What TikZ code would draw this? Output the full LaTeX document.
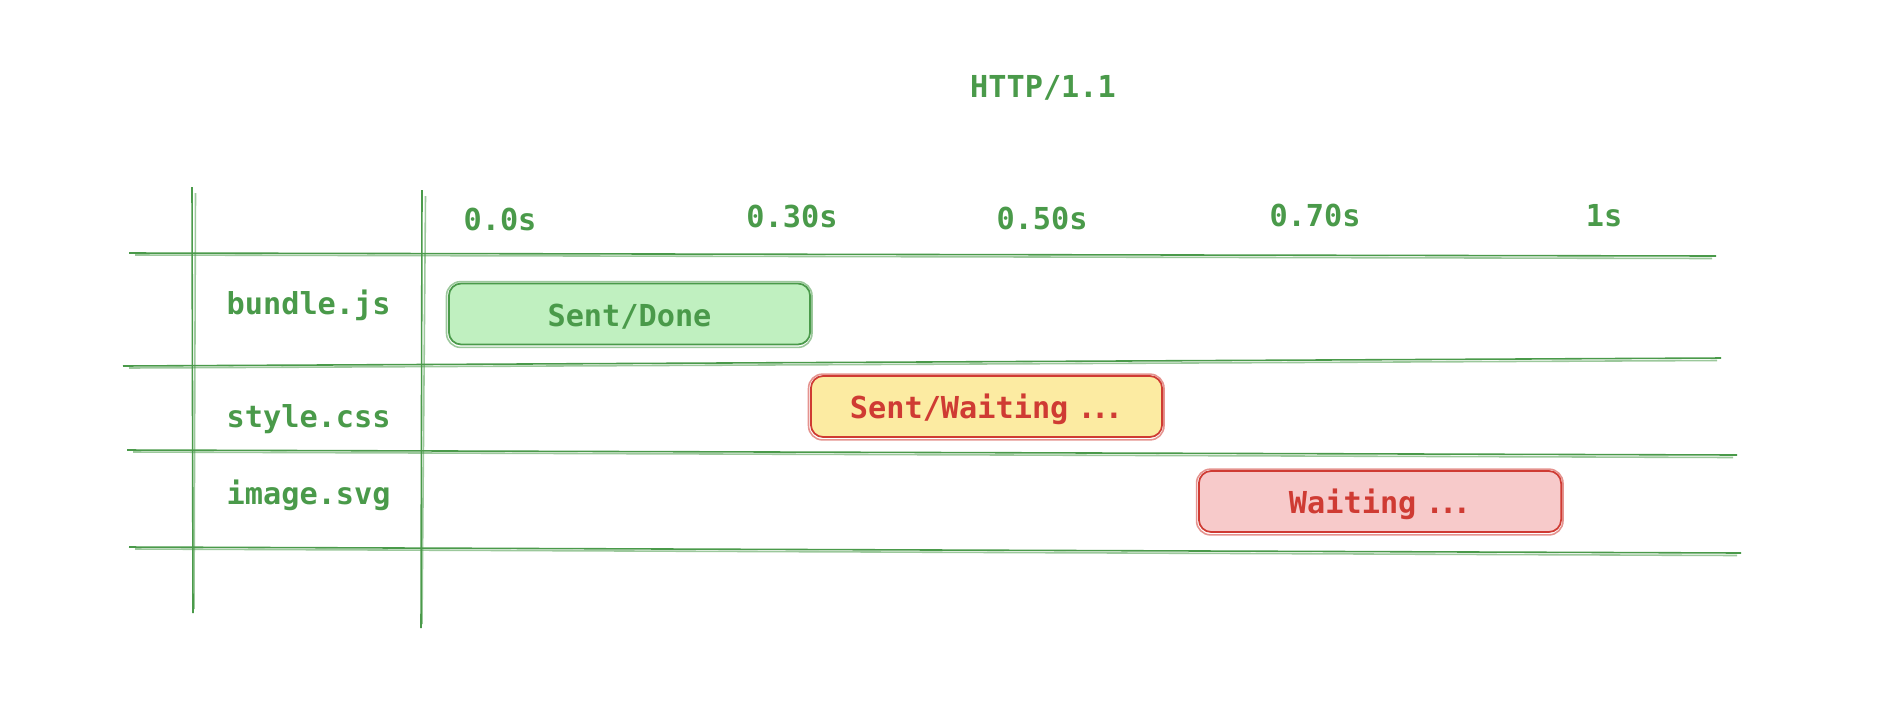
\documentclass[tikz,border=0pt]{standalone}
\usepackage{fontspec}
\setmonofont{DejaVu Sans Mono}
\definecolor{gridgreen}{HTML}{4A9A4A}
\definecolor{waitred}{HTML}{CF3B33}
\definecolor{donefill}{HTML}{C0F0C0}
\definecolor{sentfill}{HTML}{FCEBA2}
\definecolor{waitfill}{HTML}{F7CACA}
\newcommand\waitdots{\kern2.6pt.\kern-1.3pt.\kern-1.3pt.}
\tikzset{
  txt/.style={font=\ttfamily\bfseries\fontsize{8.6}{10}\selectfont, text=gridgreen, inner sep=0pt},
  gridline/.style={draw=gridgreen, line width=0.45pt},
  faint/.style={gridline, opacity=0.55},
  bar/.style={txt, draw, line width=0.5pt, rounded corners=3.5pt, minimum height=0.61cm, text depth=0pt, text height=7pt},
}
\begin{document}
\begin{tikzpicture}[x=0.01cm, y=-0.01cm]
  \useasboundingbox (0,0) rectangle (1892,724);

  % grid
  \foreach \xa/\ya/\xb/\yb in {129/253/1716/256, 123/366/1721/358, 127/450/1737/455, 129/547/1741/553}{
    \draw[gridline] (\xa,\ya) -- (\xb,\yb);
    \draw[faint] (\xa+6,\ya+2) -- (\xb-4,\yb+2.5);
  }
  \foreach \xa/\ya/\xb/\yb in {192/187/193/613, 422/190/421/628}{
    \draw[gridline] (\xa,\ya) -- (\xb,\yb);
    \draw[faint] (\xa+3.5,\ya+6) -- (\xb+1,\yb-4);
  }

  % title and time axis
  \node[txt] (title) at (1043,88) {HTTP/1.1};
  \node[txt] (t0) at (500,219) {0.0s};
  \node[txt] (t30) at (792,216) {0.30s};
  \node[txt] (t50) at (1042,218) {0.50s};
  \node[txt] (t70) at (1315,215) {0.70s};
  \node[txt] (t100) at (1604,216) {1s};

  % files
  \node[txt, anchor=west] (bundle) at (226,305) {bundle.js};
  \node[txt, anchor=west] (style) at (226,419) {style.css};
  \node[txt, anchor=west] (image) at (226,495) {image.svg};

  % requests
  \node[bar, draw=gridgreen, fill=donefill, minimum width=3.61cm] (done) at (629.5,314) {Sent/Done};
  \node[bar, draw=waitred, fill=sentfill, text=waitred, minimum width=3.51cm] (sent) at (986.5,406.5) {Sent/Waiting\waitdots};
  \node[bar, draw=waitred, fill=waitfill, text=waitred, minimum width=3.62cm] (wait) at (1380,501.5) {Waiting\waitdots};

  % second pencil stroke round the bars
  \foreach \n/\c in {done/gridgreen, sent/waitred, wait/waitred}
    \draw[faint, draw=\c, rounded corners=4pt] ([shift={(-1.5,-1)}]\n.north west) rectangle ([shift={(1,2)}]\n.south east);
\end{tikzpicture}
\end{document}
